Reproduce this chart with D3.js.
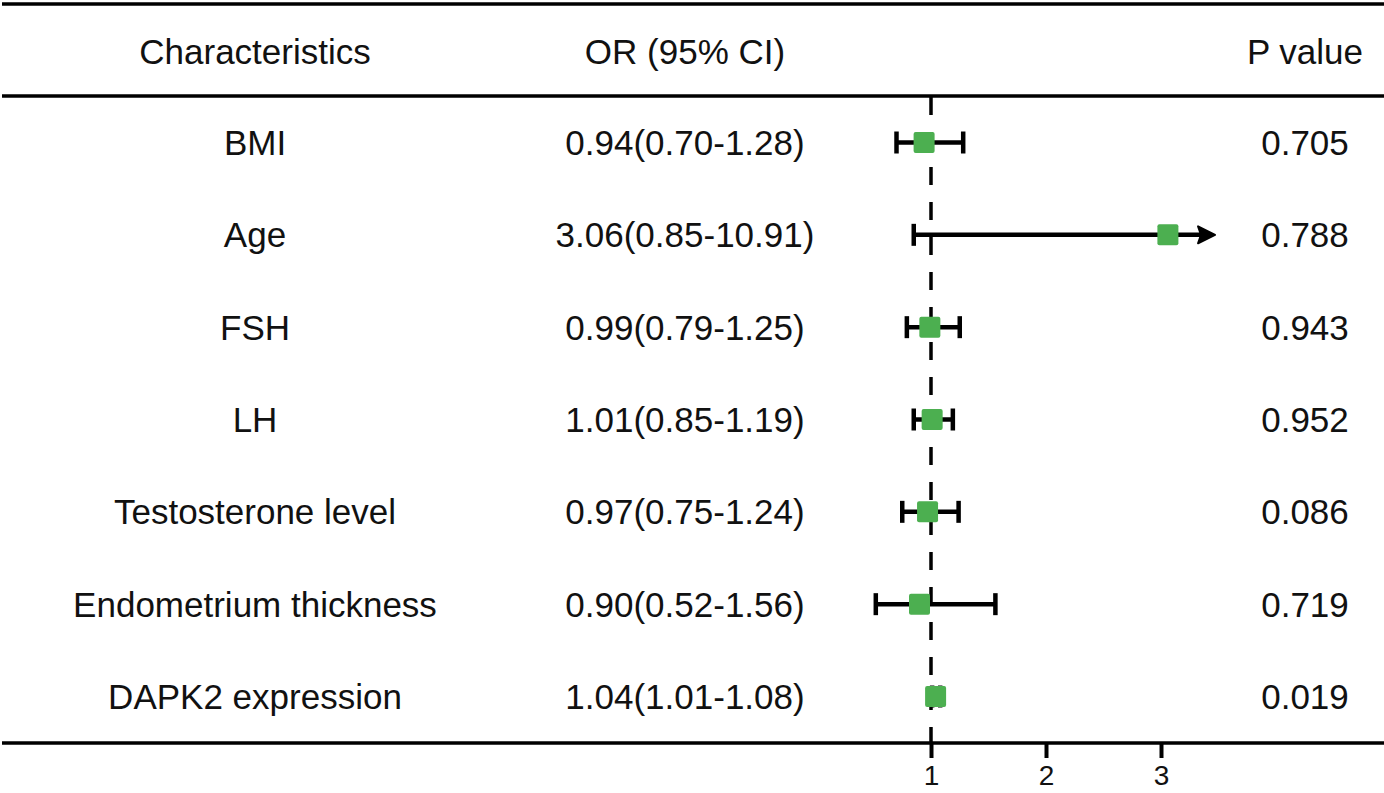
<!DOCTYPE html>
<html>
<head>
<meta charset="utf-8">
<script src="https://cdn.jsdelivr.net/npm/d3@7"></script>
<style>
  body { margin: 0; background: white; }
  text { font-family: "Liberation Sans", Arial, sans-serif; fill: #111; }
</style>
</head>
<body>
<div id="forest"></div>
<script>
// Data
const characteristics = ["BMI", "Age", "FSH", "LH", "Testosterone level", "Endometrium thickness", "DAPK2 expression"];
const oddsRatio = [0.94, 3.06, 0.99, 1.01, 0.97, 0.90, 1.04];
const ciLower = [0.70, 0.85, 0.79, 0.85, 0.75, 0.52, 1.01];
const ciUpper = [1.28, 10.91, 1.25, 1.19, 1.24, 1.56, 1.08];
const pValues = ["0.705", "0.788", "0.943", "0.952", "0.086", "0.719", "0.019"];
const headers = ["Characteristics", "OR (95% CI)", "P value"];
const tickValues = [1, 2, 3];
const axisMax = 3.47; // CI beyond this gets an arrow

const rows = characteristics.map((c, i) => ({
    name: c,
    or: oddsRatio[i],
    lo: ciLower[i],
    hi: ciUpper[i],
    p: pValues[i],
    label: `${oddsRatio[i].toFixed(2)}(${ciLower[i].toFixed(2)}-${ciUpper[i].toFixed(2)})`
}));

let width = 1384, height = 793;
let fontSize = 35;

let svg = d3.select("#forest")
    .append("svg")
    .attr("width", width)
    .attr("height", height)
    .style("background", "white");

// scales
let x = d3.scaleLinear()
    .domain([0, 4])
    .range([816, 1276]);

let y = d3.scalePoint()
    .domain(characteristics)
    .range([142.5, 696.5]);

let colX = { name: 255, or: 685, p: 1305 };
let headerY = 64;
let lineTop = 4, lineHeader = 96, lineBottom = 743;

// horizontal rules
[lineTop, lineHeader].forEach(ly => {
    svg.append("line")
        .attr("x1", 2).attr("x2", width)
        .attr("y1", ly).attr("y2", ly)
        .attr("stroke", "black")
        .attr("stroke-width", 3.5);
});

// headers
svg.selectAll(".header")
    .data(headers)
    .enter()
    .append("text")
    .attr("class", "header")
    .attr("x", (d, i) => [colX.name, colX.or, colX.p][i])
    .attr("y", headerY)
    .attr("text-anchor", "middle")
    .style("font-size", fontSize + "px")
    .text(d => d);

// reference line at OR = 1
svg.append("line")
    .attr("x1", x(1)).attr("x2", x(1))
    .attr("y1", lineHeader + 1).attr("y2", lineBottom)
    .attr("stroke", "black")
    .attr("stroke-width", 3.5)
    .attr("stroke-dasharray", "18,17");

// bottom axis (also the bottom rule)
let axis = svg.append("g")
    .attr("transform", `translate(0,${lineBottom})`)
    .call(d3.axisBottom(x).tickValues(tickValues).tickSize(15).tickPadding(7).tickFormat(d3.format("d")))
    .attr("font-size", 28)
    .attr("font-family", "'Liberation Sans', Arial, sans-serif");

axis.select(".domain").remove();
axis.selectAll(".tick line")
    .attr("stroke", "black")
    .attr("stroke-width", 4);
axis.selectAll(".tick text")
    .style("font-size", "28px")
    .attr("fill", "#111");

svg.append("line")
    .attr("x1", 2).attr("x2", width)
    .attr("y1", lineBottom).attr("y2", lineBottom)
    .attr("stroke", "black")
    .attr("stroke-width", 3.5);

// row texts
let rowG = svg.selectAll(".row")
    .data(rows)
    .enter()
    .append("g")
    .attr("class", "row")
    .attr("transform", d => `translate(0,${y(d.name)})`);

rowG.append("text")
    .attr("x", colX.name)
    .attr("y", 12.5)
    .attr("text-anchor", "middle")
    .style("font-size", fontSize + "px")
    .text(d => d.name);

rowG.append("text")
    .attr("x", colX.or)
    .attr("y", 12.5)
    .attr("text-anchor", "middle")
    .style("font-size", fontSize + "px")
    .text(d => d.label);

rowG.append("text")
    .attr("x", colX.p)
    .attr("y", 12.5)
    .attr("text-anchor", "middle")
    .style("font-size", fontSize + "px")
    .text(d => d.p);

// CI lines
let capH = 22, arrowLen = 17, arrowH = 17;

rowG.append("line")
    .attr("x1", d => x(d.lo))
    .attr("x2", d => d.hi > axisMax ? x(axisMax) - arrowLen + 2 : x(d.hi))
    .attr("y1", 0).attr("y2", 0)
    .attr("stroke", "black")
    .attr("stroke-width", 4.5);

// lower cap
rowG.append("line")
    .attr("x1", d => x(d.lo)).attr("x2", d => x(d.lo))
    .attr("y1", -capH / 2).attr("y2", capH / 2)
    .attr("stroke", "black")
    .attr("stroke-width", 4.5);

// upper cap or arrow
rowG.filter(d => d.hi <= axisMax)
    .append("line")
    .attr("x1", d => x(d.hi)).attr("x2", d => x(d.hi))
    .attr("y1", -capH / 2).attr("y2", capH / 2)
    .attr("stroke", "black")
    .attr("stroke-width", 4.5);

rowG.filter(d => d.hi > axisMax)
    .append("path")
    .attr("d", () => {
        let tip = x(axisMax);
        return `M${tip},0 L${tip - arrowLen},${-arrowH / 2} L${tip - arrowLen + 3},0 L${tip - arrowLen},${arrowH / 2} Z`;
    })
    .attr("fill", "black")
    .attr("stroke", "black")
    .attr("stroke-width", 2)
    .attr("stroke-linejoin", "round");

// OR squares
let sq = 21;
rowG.append("rect")
    .attr("x", d => x(d.or) - sq / 2)
    .attr("y", -sq / 2)
    .attr("width", sq)
    .attr("height", sq)
    .attr("rx", 2)
    .attr("fill", "#4caf50");
</script>
</body>
</html>
